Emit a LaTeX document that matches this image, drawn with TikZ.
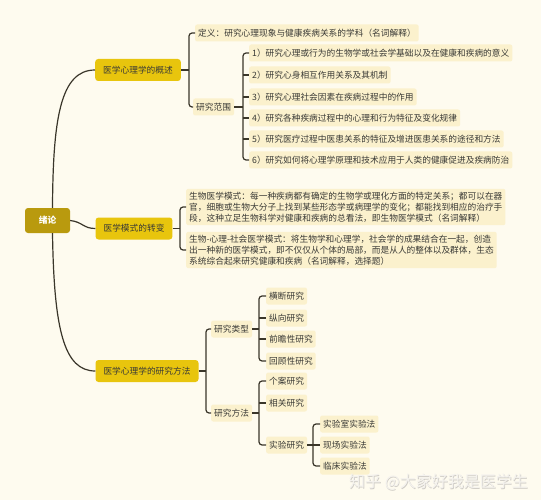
\documentclass[tikz,border=0pt]{standalone}
\usepackage{fontspec}
\setmainfont{Noto Sans CJK SC}
\definecolor{bgc}{HTML}{FEFBEF}
\definecolor{rootc}{HTML}{B99A0E}
\definecolor{lonec}{HTML}{E8C50D}
\definecolor{leafc}{HTML}{FBF1CD}
\definecolor{linec}{HTML}{3A362A}
\definecolor{txtc}{HTML}{3A3A36}
\definecolor{wmc}{HTML}{CFCCC6}
\definecolor{wmf}{HTML}{F4F2EE}
\tikzset{
  rootbox/.style={fill=rootc, rounded corners=3pt, text=white, font=\fontsize{8.7}{10}\selectfont\bfseries, minimum width=45pt, minimum height=25pt, inner sep=2pt},
  lonebox/.style={fill=lonec, rounded corners=3pt, text=txtc, font=\fontsize{8.7}{10}\selectfont, minimum height=22pt, inner xsep=8pt, inner ysep=2pt},
  leafbox/.style={fill=leafc, rounded corners=2pt, text=txtc, font=\fontsize{8.7}{10}\selectfont, minimum height=17pt, inner xsep=3pt, inner ysep=2pt, anchor=west},
  parbox/.style={leafbox, align=left, font=\fontsize{8.7}{11}\selectfont, inner ysep=3pt},
  conn/.style={draw=linec, line width=1.2pt},
  brk/.style={conn, rounded corners=3pt},
  wmark/.style={font=\fontsize{16}{18}\selectfont, anchor=west, inner sep=0pt},
}
\begin{document}
\begin{tikzpicture}[x=1pt,y=-1pt]
\fill[bgc] (0,0) rectangle (541,500);
\useasboundingbox (0,0) rectangle (541,500);

% root and level 1
\node[rootbox] (root) at (47.5,220.5) {绪论};
\node[lonebox] (ga) at (138,70) {医学心理学的概述};
\node[lonebox] (gb) at (134,228.5) {医学模式的转变};
\node[lonebox] (gc) at (147,371) {医学心理学的研究方法};

\draw[conn] ([xshift=5pt]root.north) .. controls (53,120) and (60,70) .. (ga.west);
\draw[conn] (root.east) .. controls (83,222) and (83,228.5) .. (gb.west);
\draw[conn] ([xshift=5pt]root.south) .. controls (54,330) and (64,371) .. (gc.west);

% 概述
\node[leafbox] (def) at (195,33) {定义：研究心理现象与健康疾病关系的学科（名词解释）};
\node[leafbox] (fw) at (193,107) {研究范围};
\coordinate (b1) at (189,0);
\draw[conn] (ga.east) -- (b1 |- ga.east);
\draw[brk] (def.west) -- (b1 |- def.west) -- (b1 |- fw.west) -- (fw.west);

\node[leafbox] (f1) at (249,53) {1）研究心理或行为的生物学或社会学基础以及在健康和疾病的意义};
\node[leafbox] (f2) at (249,75) {2）研究心身相互作用关系及其机制};
\node[leafbox] (f3) at (249,97) {3）研究心理社会因素在疾病过程中的作用};
\node[leafbox] (f4) at (249,118) {4）研究各种疾病过程中的心理和行为特征及变化规律};
\node[leafbox] (f5) at (249,139) {5）研究医疗过程中医患关系的特征及增进医患关系的途径和方法};
\node[leafbox] (f6) at (249,160) {6）研究如何将心理学原理和技术应用于人类的健康促进及疾病防治};
\coordinate (b2) at (243,0);
\draw[conn] (fw.east) -- (b2 |- fw.east);
\draw[brk] (f1.west) -- (b2 |- f1.west) -- (b2 |- f6.west) -- (f6.west);
\foreach \n in {f2,f3,f4,f5} \draw[conn] (b2 |- \n.west) -- (\n.west);

% 医学模式的转变
\node[parbox] (m1) at (186,207) {生物医学模式：每一种疾病都有确定的生物学或理化方面的特定关系；都可以在器\\官，细胞或生物大分子上找到某些形态学或病理学的变化；都能找到相应的治疗手\\段，这种立足生物科学对健康和疾病的总看法，即生物医学模式（名词解释）};
\node[parbox] (m2) at (186,250) {生物-心理-社会医学模式：将生物学和心理学，社会学的成果结合在一起，创造\\出一种新的医学模式，即不仅仅从个体的局部，而是从人的整体以及群体，生态\\系统综合起来研究健康和疾病（名词解释，选择题）};
\coordinate (b3) at (180,0);
\draw[conn] (gb.east) -- (b3 |- gb.east);
\draw[brk] (m1.west) -- (b3 |- m1.west) -- (b3 |- m2.west) -- (m2.west);

% 研究方法
\node[leafbox] (lx) at (211,329) {研究类型};
\node[leafbox] (ff) at (211,413) {研究方法};
\coordinate (b4) at (206,0);
\draw[conn] (gc.east) -- (b4 |- gc.east);
\draw[brk] (lx.west) -- (b4 |- lx.west) -- (b4 |- ff.west) -- (ff.west);

\node[leafbox] (t1) at (266,296) {横断研究};
\node[leafbox] (t2) at (266,318) {纵向研究};
\node[leafbox] (t3) at (266,339) {前瞻性研究};
\node[leafbox] (t4) at (266,361) {回顾性研究};
\coordinate (b5) at (259,0);
\draw[conn] (lx.east) -- (b5 |- lx.east);
\draw[brk] (t1.west) -- (b5 |- t1.west) -- (b5 |- t4.west) -- (t4.west);
\foreach \n in {t2,t3} \draw[conn] (b5 |- \n.west) -- (\n.west);

\node[leafbox] (s1) at (266,381) {个案研究};
\node[leafbox] (s2) at (266,403) {相关研究};
\node[leafbox] (s3) at (266,445) {实验研究};
\coordinate (b6) at (259,0);
\draw[conn] (ff.east) -- (b6 |- ff.east);
\draw[brk] (s1.west) -- (b6 |- s1.west) -- (b6 |- s3.west) -- (s3.west);
\draw[conn] (b6 |- s2.west) -- (s2.west);

\node[leafbox] (e1) at (320,424) {实验室实验法};
\node[leafbox] (e2) at (320,445) {现场实验法};
\node[leafbox] (e3) at (320,466) {临床实验法};
\coordinate (b7) at (313,0);
\draw[conn] (s3.east) -- (b7 |- s3.east);
\draw[brk] (e1.west) -- (b7 |- e1.west) -- (b7 |- e3.west) -- (e3.west);
\draw[conn] (b7 |- e2.west) -- (e2.west);

% watermark (shadowed light text)
\node[wmark, text=wmc] (wms) at (349.7,482.7) {知乎 @大家好我是医学生};
\node[wmark, text=wmf] (wm) at (349,482) {知乎 @大家好我是医学生};
\end{tikzpicture}
\end{document}
